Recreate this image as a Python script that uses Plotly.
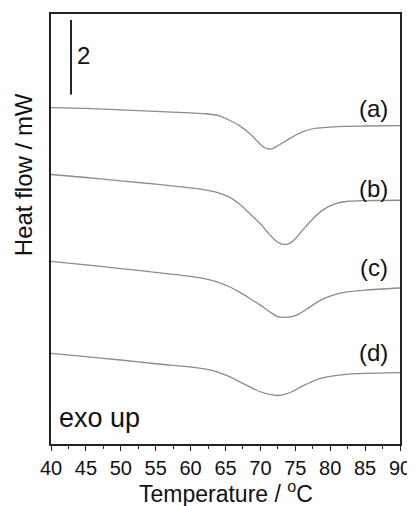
import plotly.graph_objects as go

# Temperature (°C) and heat flow (mW, stacked curves)
temp_a = [40, 45, 50, 55, 60, 62, 64, 65.5, 67, 68.5, 69.5, 70.5, 71.5, 72.5, 74, 76, 78, 80, 82, 85, 90]
hf_a = [9.01, 8.99, 8.95, 8.91, 8.87, 8.85, 8.80, 8.68, 8.53, 8.31, 8.12, 7.95, 7.90, 7.99, 8.16, 8.36, 8.46, 8.49, 8.51, 8.52, 8.53]

temp_b = [40, 45, 50, 55, 60, 62, 64, 65.5, 67, 68.5, 70, 71, 72, 73, 74, 75, 76, 77.5, 79, 80.5, 82, 85, 90]
hf_b = [7.22, 7.14, 7.05, 6.96, 6.86, 6.81, 6.73, 6.62, 6.43, 6.17, 5.90, 5.68, 5.48, 5.36, 5.36, 5.50, 5.72, 6.03, 6.28, 6.42, 6.49, 6.52, 6.53]

temp_c = [40, 45, 50, 55, 60, 62, 64, 65.5, 67, 68.5, 70, 71.5, 72.5, 73.5, 74.5, 75.5, 77, 78.5, 80, 82, 85, 90]
hf_c = [4.89, 4.80, 4.70, 4.60, 4.49, 4.43, 4.33, 4.22, 4.07, 3.90, 3.72, 3.52, 3.41, 3.39, 3.41, 3.48, 3.66, 3.84, 3.96, 4.06, 4.12, 4.18]

temp_d = [40, 45, 50, 55, 60, 62, 64, 65.5, 67, 68.5, 70, 71.5, 72.5, 73.5, 74.5, 76, 78, 80, 82, 85, 90]
hf_d = [2.43, 2.34, 2.25, 2.15, 2.06, 2.01, 1.92, 1.81, 1.67, 1.53, 1.40, 1.32, 1.30, 1.33, 1.40, 1.55, 1.72, 1.81, 1.86, 1.89, 1.91]

curve_labels = ["(a)", "(b)", "(c)", "(d)"]
label_y = [9.0, 6.85, 4.72, 2.45]
label_x = 88.5

scale_x = [42.87, 42.87]
scale_y = [9.36, 11.36]
scale_label = "2"

xticks = [40, 45, 50, 55, 60, 65, 70, 75, 80, 85, 90]

FONT = "Liberation Sans, Arial, sans-serif"
LINE = "#8c8c8c"

fig = go.Figure()
for t, h in [(temp_a, hf_a), (temp_b, hf_b), (temp_c, hf_c), (temp_d, hf_d)]:
    fig.add_trace(go.Scatter(x=t, y=h, mode="lines",
                             line=dict(color=LINE, width=1.3, shape="spline", smoothing=0.8),
                             showlegend=False, hoverinfo="skip"))

fig.add_trace(go.Scatter(x=scale_x, y=scale_y, mode="lines",
                         line=dict(color="#222222", width=2), showlegend=False, hoverinfo="skip"))

annotations = []
for lab, ly in zip(curve_labels, label_y):
    annotations.append(dict(x=label_x, y=ly, xref="x", yref="y", text=lab, showarrow=False,
                            xanchor="right", yanchor="middle",
                            font=dict(family=FONT, size=24, color="#111111")))
annotations.append(dict(x=scale_x[0] + 0.55, y=10.4, xref="x", yref="y", text=scale_label,
                        showarrow=False, xanchor="left", yanchor="middle",
                        font=dict(family=FONT, size=24, color="#111111")))
annotations.append(dict(x=40.8, y=0.7, xref="x", yref="y", text="exo up", showarrow=False,
                        xanchor="left", yanchor="middle",
                        font=dict(family=FONT, size=27, color="#111111")))
annotations.append(dict(x=0.5, y=-0.111, xref="paper", yref="paper",
                        text="Temperature / <sup>o</sup>C", showarrow=False,
                        xanchor="center", yanchor="middle",
                        font=dict(family=FONT, size=23, color="#111111")))
annotations.append(dict(x=-0.078, y=0.627, xref="paper", yref="paper",
                        text="Heat flow / mW", showarrow=False, textangle=-90,
                        xanchor="center", yanchor="middle",
                        font=dict(family=FONT, size=24, color="#111111")))

# page body has an 8px margin, so the figure is shrunk to fit the 415x506 window
fig.update_layout(
    width=407, height=498,
    margin=dict(l=43, r=15, t=4, b=62),
    plot_bgcolor="white", paper_bgcolor="white",
    annotations=annotations,
    xaxis=dict(range=[40, 90], tickvals=xticks, ticks="outside", ticklen=5, tickwidth=1.2,
               tickcolor="#222222", showline=True, linecolor="#222222", linewidth=1.5,
               mirror=True, showgrid=False, zeroline=False,
               tickfont=dict(family=FONT, size=20, color="#111111"),
               minor=dict(dtick=2.5, ticks="outside", ticklen=3, tickcolor="#222222", tickwidth=1)),
    yaxis=dict(range=[0, 11.52], showticklabels=False, ticks="", showline=True,
               linecolor="#222222", linewidth=1.5, mirror=True, showgrid=False, zeroline=False),
)

fig.write_html("out.html")
